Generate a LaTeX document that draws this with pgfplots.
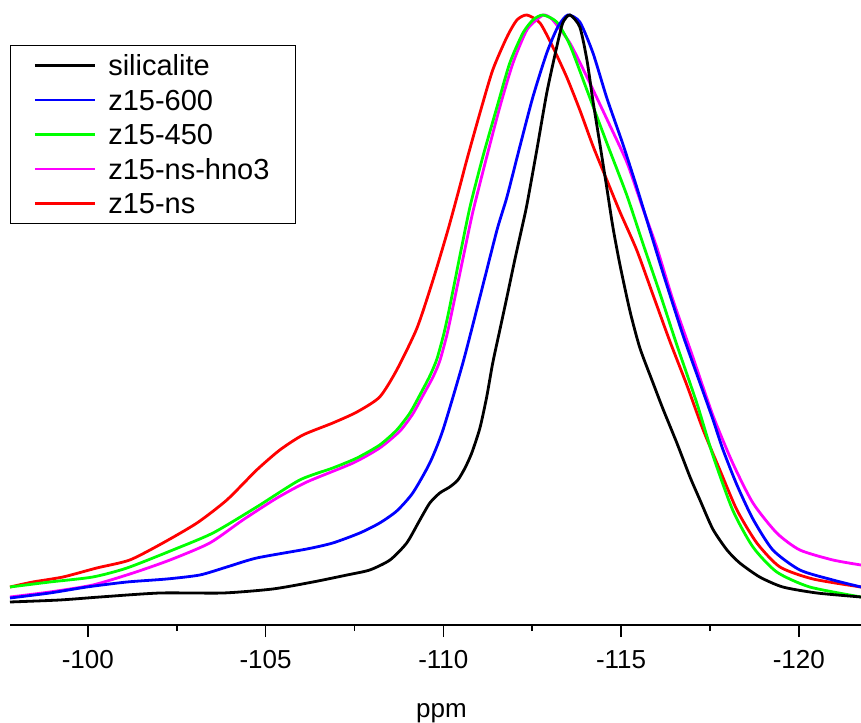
\documentclass[border=0pt]{standalone}
\usepackage{fontspec}
\setmainfont{Liberation Sans}
\usepackage{pgfplots}
\pgfplotsset{compat=1.18}
\definecolor{mag}{RGB}{255,0,255}
\definecolor{grn}{RGB}{0,255,0}
\definecolor{blu}{RGB}{0,0,255}
\definecolor{rd}{RGB}{255,0,0}

\begin{document}
\begin{tikzpicture}
\begin{axis}[
  scale only axis, width=851pt, height=610pt,
  x dir=reverse, xmin=-121.75, xmax=-97.81,
  ymin=0, ymax=610, clip=false,
  axis x line=bottom, axis y line=none,
  axis line style={line width=2pt, -},
  xtick={-100,-105,-110,-115,-120},
  minor x tick num=1,
  tick align=outside,
  major tick length=12pt, minor tick length=6pt,
  every tick/.style={line width=1.6pt, black},
  /pgf/number format/assume math mode=true,
  xticklabel style={font=\fontsize{26}{30}\selectfont, yshift=-10pt},
  xlabel={ppm},
  xlabel style={font=\fontsize{26}{30}\selectfont, yshift=-28pt, xshift=6pt},
  legend style={at={(axis description cs:0,0.9508)}, anchor=north west,
    draw=black, line width=1pt, fill=white,
    inner xsep=0pt, inner ysep=6pt, row sep=6.5pt, column sep=12pt,
    nodes={inner sep=0pt, text height=24pt, text depth=4pt, text width=187pt},
    font=\fontsize{29}{33}\selectfont},
  legend cell align=left,
  legend image code/.code={
    \path (0pt,0pt) (83pt,0pt);
    \draw[#1] (23pt,0pt) -- (83pt,0pt);},
  reverse legend,
  every axis plot/.append style={line width=2.8pt, smooth, tension=0.4},
]
% z15-ns
\addplot[rd] coordinates {
(-97.81,38) (-98.45,43) (-99.30,48) (-100.25,57) (-101.18,65) (-102.11,82)
(-103.07,102) (-103.91,125) (-104.75,155) (-105.40,175) (-106.05,190)
(-106.89,202) (-107.57,213) (-108.21,228) (-108.69,255) (-109.26,297)
(-109.71,345) (-110.13,395) (-110.46,438) (-110.66,465) (-111.03,512)
(-111.39,555) (-111.79,588) (-112.07,605) (-112.35,610) (-112.72,602)
(-113.08,578) (-113.47,548) (-113.84,515) (-114.21,479) (-114.60,445)
(-114.97,413) (-115.44,375) (-115.90,330) (-116.37,284) (-116.85,240)
(-117.30,196) (-117.78,155) (-118.26,115) (-118.82,82) (-119.47,58)
(-120.40,46) (-121.75,38)
};
% z15-ns-hno3
\addplot[mag] coordinates {
(-97.81,28) (-98.93,33) (-100.14,40) (-101.27,52) (-102.31,65) (-103.43,82)
(-104.36,105) (-105.32,127) (-106.16,143) (-107.46,162) (-108.21,177)
(-108.78,194) (-109.14,211) (-109.42,229) (-109.71,248) (-109.90,264)
(-110.10,290) (-110.27,318) (-110.55,366) (-110.83,413) (-111.22,468)
(-111.59,518) (-111.96,562) (-112.35,595) (-112.72,608) (-112.86,610)
(-113.08,605) (-113.56,582) (-114.04,548) (-114.60,506) (-115.16,463)
(-115.61,417) (-116.01,377) (-116.46,325) (-117.02,268) (-117.58,210)
(-118.14,162) (-118.71,122) (-119.38,92) (-120.03,75) (-120.96,65)
(-121.75,60)
};
% z15-450
\addplot[grn] coordinates {
(-97.81,38) (-98.93,43) (-100.14,48) (-101.10,57) (-102.39,75) (-103.52,92)
(-104.75,118) (-105.96,145) (-106.89,157) (-107.57,167) (-108.21,180)
(-108.69,195) (-109.06,212) (-109.34,230) (-109.62,249) (-109.82,266)
(-110.02,292) (-110.18,318) (-110.46,368) (-110.75,418) (-111.11,468)
(-111.51,518) (-111.87,562) (-112.24,592) (-112.52,605) (-112.80,610)
(-113.19,603) (-113.56,580) (-114.04,535) (-114.60,482) (-115.16,430)
(-115.61,382) (-116.09,332) (-116.57,280) (-117.13,222) (-117.58,170)
(-118.14,115) (-118.71,78) (-119.38,53) (-120.31,38) (-121.75,28)
};
% z15-600
\addplot[blu] coordinates {
(-97.81,27) (-98.93,32) (-99.97,38) (-101.10,43) (-102.22,46) (-103.15,50)
(-103.91,58) (-104.75,67) (-106.16,76) (-106.89,82) (-107.65,92)
(-108.21,102) (-108.69,114) (-109.14,132) (-109.62,162) (-109.99,195)
(-110.55,262) (-111.03,328) (-111.51,395) (-111.79,428) (-112.15,478)
(-112.52,528) (-112.91,572) (-113.22,598) (-113.50,610) (-113.84,603)
(-114.21,572) (-114.60,527) (-115.05,481) (-115.44,438) (-115.81,395)
(-116.18,352) (-116.74,290) (-117.22,242) (-117.58,206) (-117.86,176)
(-118.26,140) (-118.71,106) (-119.27,75) (-120.03,55) (-120.96,45)
(-121.75,38)
};
% silicalite
\addplot[black] coordinates {
(-97.81,23) (-99.21,25) (-100.34,28) (-102.03,32) (-103.80,32) (-105.20,36)
(-106.33,43) (-107.29,50) (-107.93,55) (-108.50,65) (-108.97,82)
(-109.34,105) (-109.62,122) (-109.90,132) (-110.18,138) (-110.41,145)
(-110.61,157) (-110.80,172) (-111.03,197) (-111.22,228) (-111.39,262)
(-111.59,295) (-111.79,328) (-112.01,365) (-112.21,397) (-112.35,420)
(-112.63,475) (-112.91,532) (-113.19,578) (-113.36,602) (-113.56,610)
(-113.84,598) (-114.04,565) (-114.21,524) (-114.40,482) (-114.60,437)
(-114.77,398) (-114.97,360) (-115.25,314) (-115.53,277) (-115.90,242)
(-116.18,216) (-116.57,182) (-116.94,148) (-117.22,125) (-117.58,96)
(-117.98,75) (-118.34,62) (-118.90,48) (-119.55,38) (-120.51,32)
(-121.75,28)
};
\legend{z15-ns, z15-ns-hno3, z15-450, z15-600, silicalite}
\coordinate (sw) at (rel axis cs:0,0);
\coordinate (ne) at (rel axis cs:1,1);
\end{axis}
\pgfresetboundingbox
\path[use as bounding box] ([xshift=-10pt,yshift=-97pt]sw) rectangle ([yshift=15pt]ne);
\end{tikzpicture}
\end{document}
